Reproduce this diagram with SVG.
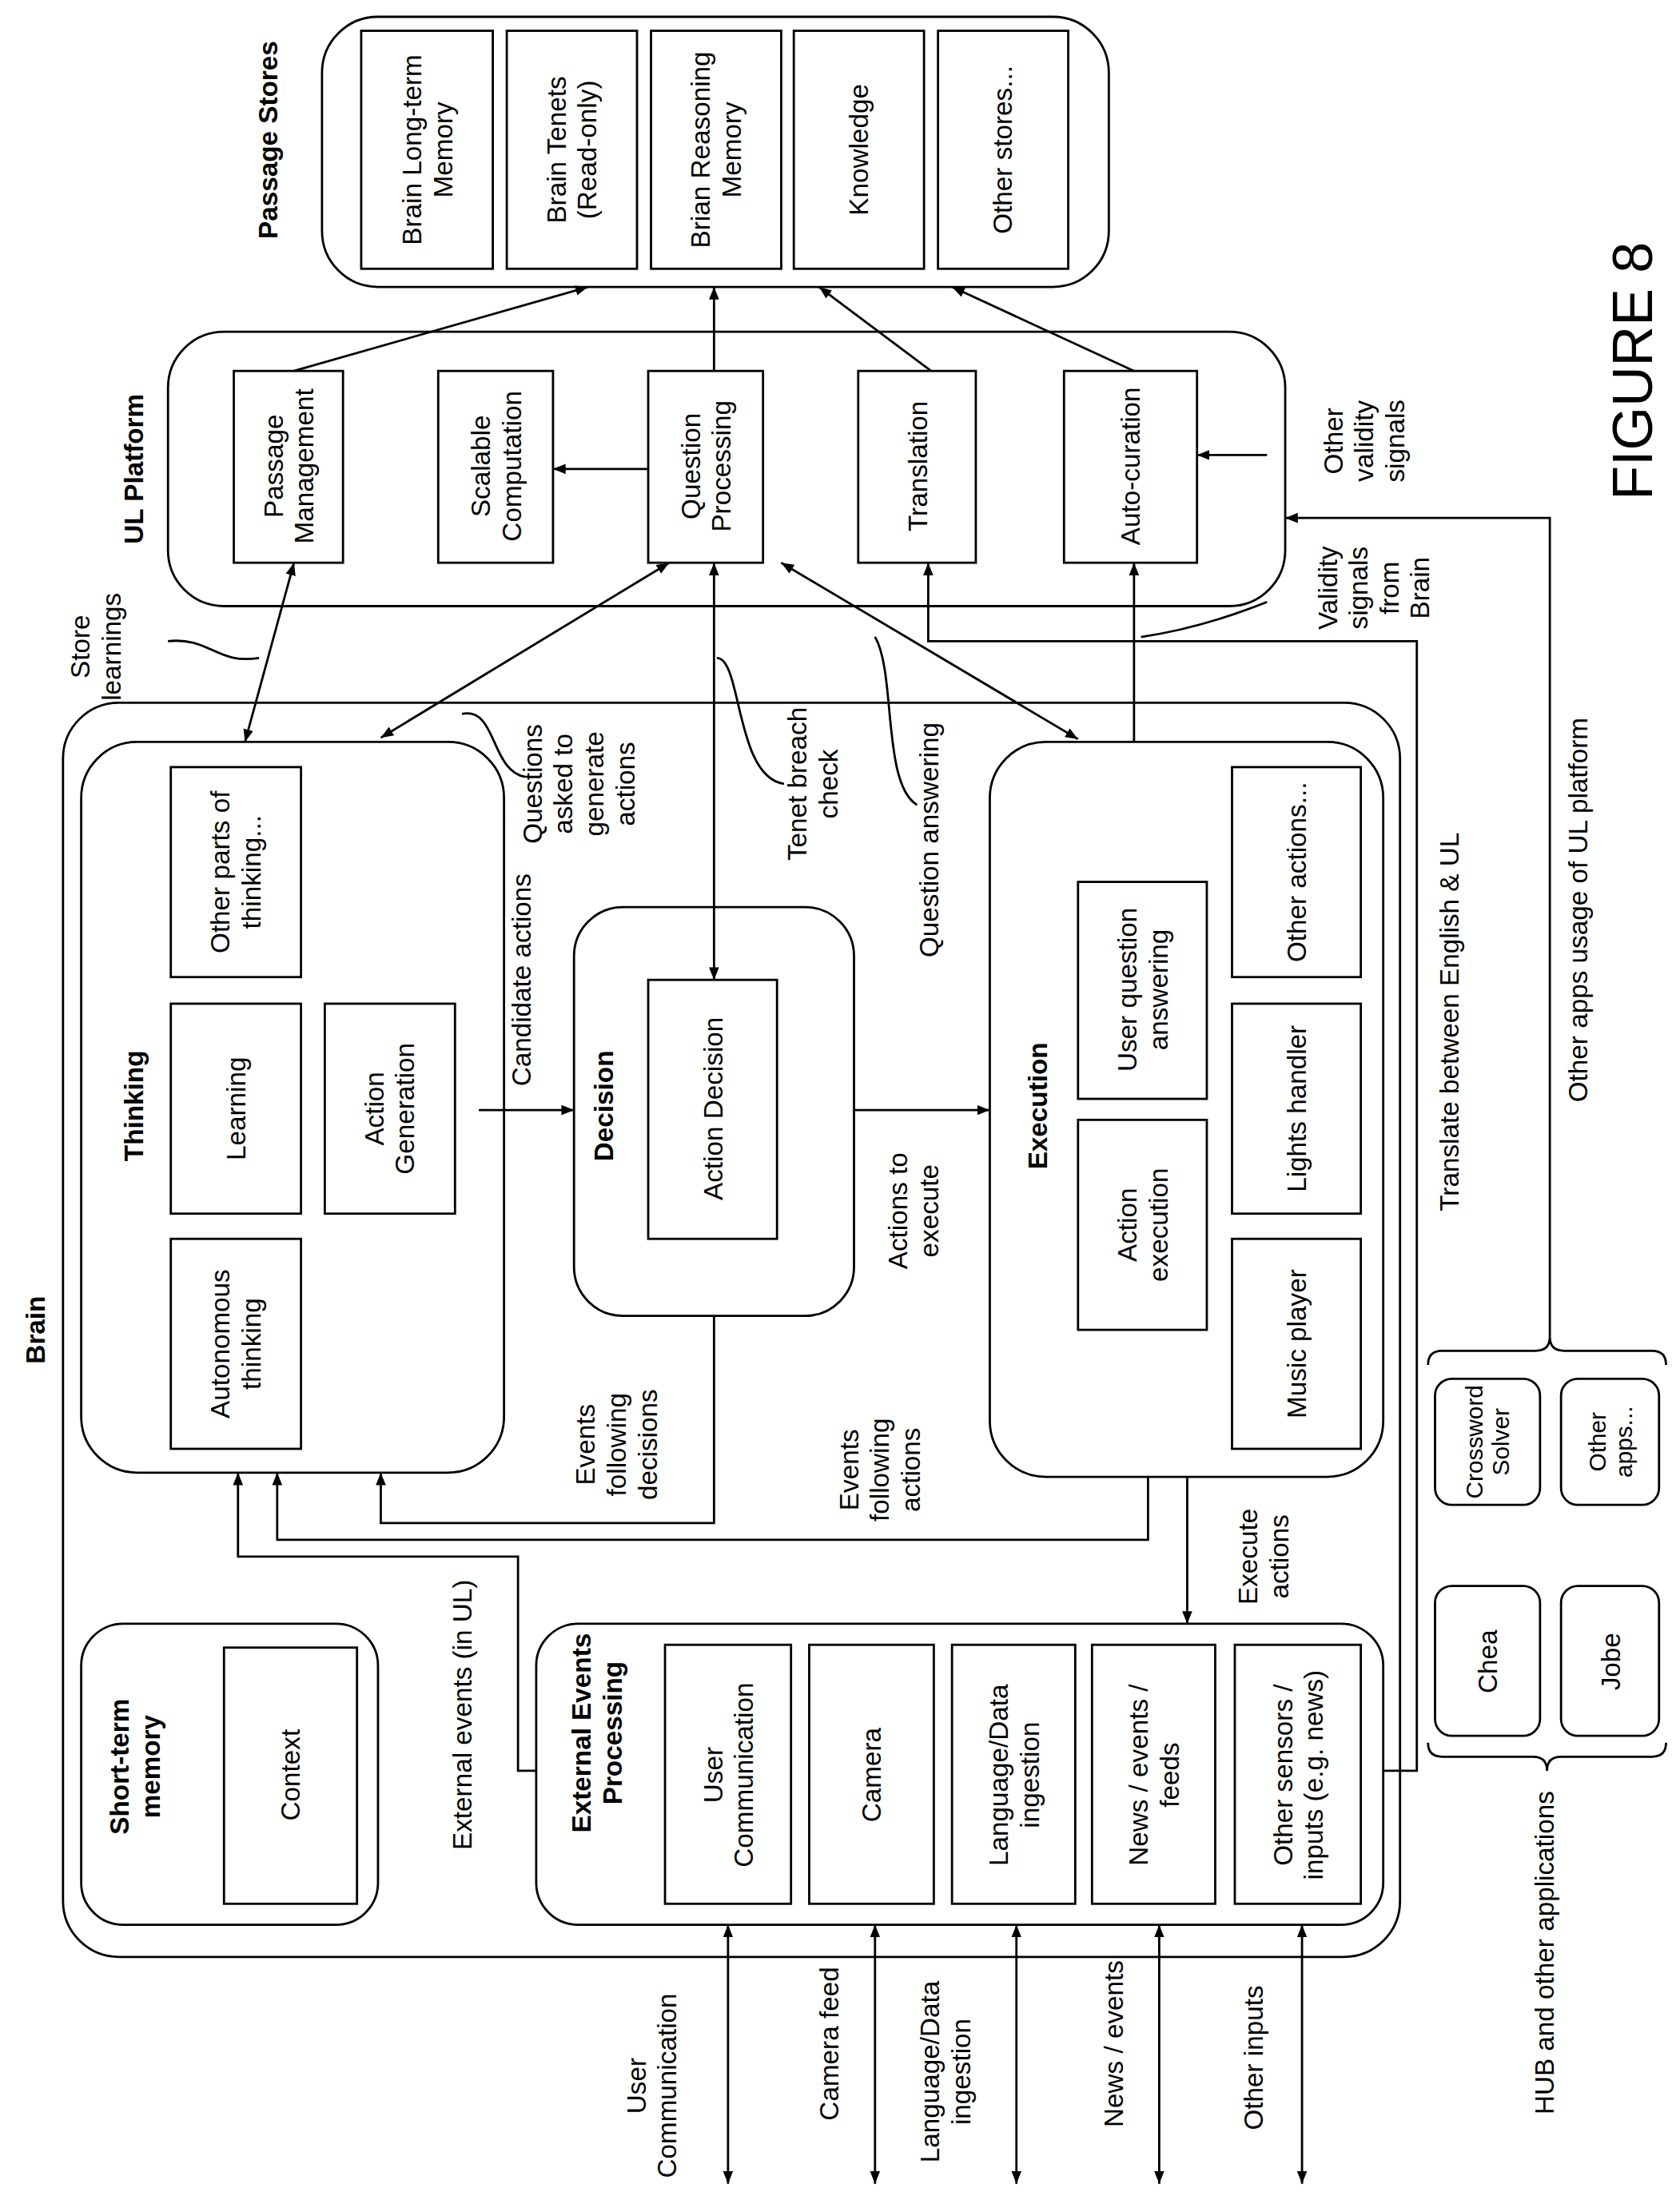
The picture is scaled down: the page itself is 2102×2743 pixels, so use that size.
<svg xmlns="http://www.w3.org/2000/svg" width="2102" height="2743" viewBox="0 0 2102 2743">
<defs>
<marker id="ah" viewBox="0 0 10 10" refX="10" refY="5" markerWidth="9" markerHeight="9" markerUnits="userSpaceOnUse" orient="auto-start-reverse"><path d="M0,1 L10,5 L0,9 z" fill="#000"/></marker>
<style>
.b{fill:#fff;stroke:#000;stroke-width:1.6}
.c{fill:none;stroke:#000;stroke-width:1.6}
.a{fill:none;stroke:#000;stroke-width:1.6;marker-end:url(#ah)}
.d{fill:none;stroke:#000;stroke-width:1.6;marker-end:url(#ah);marker-start:url(#ah)}
text{font-family:"Liberation Sans",Arial,sans-serif;font-size:19px;text-anchor:middle}
.h{font-weight:bold}
.s{font-size:17px}
</style>
</defs>
<rect width="2102" height="2743" fill="#fff"/>
<g transform="scale(1.7517)">
<g id="passage-stores">
<rect class="b" x="230" y="12" width="562" height="193" rx="40"/>
<text class="h" transform="translate(198,100) rotate(-90)">Passage Stores</text>
<rect class="b" x="258" y="22" width="94" height="170"/><text transform="translate(305,107) rotate(-90)"><tspan x="0" y="-4">Brain Long-term</tspan><tspan x="0" y="18">Memory</tspan></text>
<rect class="b" x="362" y="22" width="93" height="170"/><text transform="translate(408,107) rotate(-90)"><tspan x="0" y="-4">Brain Tenets</tspan><tspan x="0" y="18">(Read-only)</tspan></text>
<rect class="b" x="465" y="22" width="93" height="170"/><text transform="translate(511,107) rotate(-90)"><tspan x="0" y="-4">Brian Reasoning</tspan><tspan x="0" y="18">Memory</tspan></text>
<rect class="b" x="567" y="22" width="93" height="170"/><text transform="translate(613,107) rotate(-90)"><tspan x="0" y="7">Knowledge</tspan></text>
<rect class="b" x="670" y="22" width="93" height="170"/><text transform="translate(716,107) rotate(-90)"><tspan x="0" y="7">Other stores...</tspan></text>
</g>
<g id="ul-platform">
<rect class="b" x="120" y="237" width="798" height="196" rx="40"/>
<text class="h" transform="translate(102,335) rotate(-90)">UL Platform</text>
<rect class="b" x="167" y="265" width="78" height="137"/><text transform="translate(206,333) rotate(-90)"><tspan x="0" y="-4">Passage</tspan><tspan x="0" y="18">Management</tspan></text>
<rect class="b" x="313" y="265" width="82" height="137"/><text transform="translate(354,333) rotate(-90)"><tspan x="0" y="-4">Scalable</tspan><tspan x="0" y="18">Computation</tspan></text>
<rect class="b" x="463" y="265" width="82" height="137"/><text transform="translate(504,333) rotate(-90)"><tspan x="0" y="-4">Question</tspan><tspan x="0" y="18">Processing</tspan></text>
<rect class="b" x="613" y="265" width="84" height="137"/><text transform="translate(655,333) rotate(-90)"><tspan x="0" y="7">Translation</tspan></text>
<rect class="b" x="760" y="265" width="95" height="137"/><text transform="translate(807,333) rotate(-90)"><tspan x="0" y="7">Auto-curation</tspan></text>
</g>
<g id="brain">
<rect class="b" x="45" y="502" width="955" height="896" rx="40"/>
<text class="h" transform="translate(32,950) rotate(-90)">Brain</text>
</g>
<g id="thinking">
<rect class="b" x="58" y="530" width="302" height="522" rx="40"/>
<text class="h" transform="translate(102,790) rotate(-90)">Thinking</text>
<rect class="b" x="122" y="548" width="93" height="150"/><text transform="translate(168,623) rotate(-90)"><tspan x="0" y="-4">Other parts of</tspan><tspan x="0" y="18">thinking...</tspan></text>
<rect class="b" x="122" y="717" width="93" height="150"/><text transform="translate(168,792) rotate(-90)"><tspan x="0" y="7">Learning</tspan></text>
<rect class="b" x="232" y="717" width="93" height="150"/><text transform="translate(278,792) rotate(-90)"><tspan x="0" y="-4">Action</tspan><tspan x="0" y="18">Generation</tspan></text>
<rect class="b" x="122" y="885" width="93" height="150"/><text transform="translate(168,960) rotate(-90)"><tspan x="0" y="-4">Autonomous</tspan><tspan x="0" y="18">thinking</tspan></text>
</g>
<g id="decision">
<rect class="b" x="410" y="648" width="200" height="292" rx="35"/>
<text class="h" transform="translate(438,790) rotate(-90)">Decision</text>
<rect class="b" x="463" y="700" width="92" height="185"/><text transform="translate(509,792) rotate(-90)"><tspan x="0" y="7">Action Decision</tspan></text>
</g>
<g id="execution">
<rect class="b" x="707" y="530" width="281" height="525" rx="40"/>
<text class="h" transform="translate(748,790) rotate(-90)">Execution</text>
<rect class="b" x="770" y="630" width="92" height="155"/><text transform="translate(816,707) rotate(-90)"><tspan x="0" y="-4">User question</tspan><tspan x="0" y="18">answering</tspan></text>
<rect class="b" x="770" y="800" width="92" height="150"/><text transform="translate(816,875) rotate(-90)"><tspan x="0" y="-4">Action</tspan><tspan x="0" y="18">execution</tspan></text>
<rect class="b" x="880" y="548" width="92" height="150"/><text transform="translate(926,623) rotate(-90)"><tspan x="0" y="7">Other actions...</tspan></text>
<rect class="b" x="880" y="717" width="92" height="150"/><text transform="translate(926,792) rotate(-90)"><tspan x="0" y="7">Lights handler</tspan></text>
<rect class="b" x="880" y="885" width="92" height="150"/><text transform="translate(926,960) rotate(-90)"><tspan x="0" y="7">Music player</tspan></text>
</g>
<g id="short-term-memory">
<rect class="b" x="58" y="1160" width="212" height="215" rx="30"/>
<text class="h" transform="translate(96,1262) rotate(-90)"><tspan x="0" y="-4">Short-term</tspan><tspan x="0" y="18">memory</tspan></text>
<rect class="b" x="160" y="1177" width="95" height="183"/><text transform="translate(207,1268) rotate(-90)"><tspan x="0" y="7">Context</tspan></text>
</g>
<g id="external-events">
<rect class="b" x="383" y="1160" width="605" height="215" rx="30"/>
<text class="h" transform="translate(426,1238) rotate(-90)"><tspan x="0" y="-4">External Events</tspan><tspan x="0" y="18">Processing</tspan></text>
<rect class="b" x="475" y="1175" width="90" height="185"/><text transform="translate(520,1268) rotate(-90)"><tspan x="0" y="-4">User</tspan><tspan x="0" y="18">Communication</tspan></text>
<rect class="b" x="578" y="1175" width="89" height="185"/><text transform="translate(622,1268) rotate(-90)"><tspan x="0" y="7">Camera</tspan></text>
<rect class="b" x="680" y="1175" width="88" height="185"/><text transform="translate(724,1268) rotate(-90)"><tspan x="0" y="-4">Language/Data</tspan><tspan x="0" y="18">ingestion</tspan></text>
<rect class="b" x="780" y="1175" width="88" height="185"/><text transform="translate(824,1268) rotate(-90)"><tspan x="0" y="-4">News / events /</tspan><tspan x="0" y="18">feeds</tspan></text>
<rect class="b" x="882" y="1175" width="90" height="185"/><text transform="translate(927,1268) rotate(-90)"><tspan x="0" y="-4">Other sensors /</tspan><tspan x="0" y="18">inputs (e.g. news)</tspan></text>
</g>
<g id="hub">
<rect class="b" x="1025" y="1133" width="75" height="107" rx="12"/><text transform="translate(1062,1187) rotate(-90)"><tspan x="0" y="7">Chea</tspan></text>
<rect class="b" x="1115" y="1133" width="70" height="107" rx="12"/><text transform="translate(1150,1187) rotate(-90)"><tspan x="0" y="7">Jobe</tspan></text>
<rect class="b" x="1025" y="985" width="75" height="90" rx="12"/><text class="s" transform="translate(1062,1030) rotate(-90)"><tspan x="0" y="-3">Crossword</tspan><tspan x="0" y="16">Solver</tspan></text>
<rect class="b" x="1115" y="985" width="70" height="90" rx="12"/><text class="s" transform="translate(1150,1030) rotate(-90)"><tspan x="0" y="-3">Other</tspan><tspan x="0" y="16">apps...</tspan></text>
<path class="c" d="M1020,1245 Q1020,1255 1030,1255 L1095,1255 Q1105,1255 1105,1265 Q1105,1255 1115,1255 L1180,1255 Q1190,1255 1190,1245"/>
<path class="c" d="M1020,975 Q1020,965 1030,965 L1097,965 Q1107,965 1107,955 Q1107,965 1117,965 L1180,965 Q1190,965 1190,975"/>
<text transform="translate(1110,1395) rotate(-90)">HUB and other applications</text>
</g>
<g id="connectors">
<line class="a" x1="210" y1="265" x2="420" y2="205"/>
<line class="a" x1="510" y1="265" x2="510" y2="205"/>
<line class="a" x1="665" y1="265" x2="585" y2="205"/>
<line class="a" x1="810" y1="265" x2="680" y2="205"/>
<line class="a" x1="463" y1="335" x2="395" y2="335"/>
<line class="a" x1="905" y1="325" x2="855" y2="325"/>
<polyline class="a" points="1107,955 1107,370 918,370"/>
<polyline class="a" points="988,1265 1012,1265 1012,458 663,458 663,402"/>
<line class="a" x1="810" y1="530" x2="810" y2="402"/>
<line class="d" x1="175" y1="530" x2="210" y2="402"/>
<line class="d" x1="272" y1="527" x2="478" y2="402"/>
<line class="d" x1="510" y1="700" x2="510" y2="402"/>
<line class="d" x1="770" y1="528" x2="558" y2="402"/>
<line class="a" x1="342" y1="793" x2="410" y2="793"/>
<line class="a" x1="610" y1="793" x2="707" y2="793"/>
<polyline class="a" points="510,940 510,1088 272,1088 272,1052"/>
<polyline class="a" points="820,1055 820,1100 198,1100 198,1052"/>
<path class="a" d="M383,1265 L370,1265 L370,1112 L170,1112 L170,1052"/>
<line class="a" x1="848" y1="1055" x2="848" y2="1160"/>
<line class="d" x1="520" y1="1375" x2="520" y2="1560"/>
<line class="d" x1="625" y1="1375" x2="625" y2="1560"/>
<line class="d" x1="726" y1="1375" x2="726" y2="1560"/>
<line class="d" x1="828" y1="1375" x2="828" y2="1560"/>
<line class="d" x1="930" y1="1375" x2="930" y2="1560"/>
<path class="c" d="M120,458 C150,455 155,475 185,470"/>
<path class="c" d="M330,510 C355,505 350,550 375,555"/>
<path class="c" d="M512,470 C530,470 525,555 560,560"/>
<path class="c" d="M625,455 C640,480 630,560 655,575"/>
<path class="c" d="M815,455 C850,450 880,440 905,430"/>
</g>
<g id="labels">
<text transform="translate(68,462) rotate(-90)"><tspan x="0" y="-4">Store</tspan><tspan x="0" y="18">learnings</tspan></text>
<text transform="translate(413,560) rotate(-90)"><tspan x="0" y="-26">Questions</tspan><tspan x="0" y="-4">asked to</tspan><tspan x="0" y="18">generate</tspan><tspan x="0" y="40">actions</tspan></text>
<text transform="translate(580,560) rotate(-90)"><tspan x="0" y="-4">Tenet breach</tspan><tspan x="0" y="18">check</tspan></text>
<text transform="translate(663,600) rotate(-90)"><tspan x="0" y="7">Question answering</tspan></text>
<text transform="translate(372,700) rotate(-90)"><tspan x="0" y="7">Candidate actions</tspan></text>
<text transform="translate(652,865) rotate(-90)"><tspan x="0" y="-4">Actions to</tspan><tspan x="0" y="18">execute</tspan></text>
<text transform="translate(440,1032) rotate(-90)"><tspan x="0" y="-15">Events</tspan><tspan x="0" y="7">following</tspan><tspan x="0" y="29">decisions</tspan></text>
<text transform="translate(628,1050) rotate(-90)"><tspan x="0" y="-15">Events</tspan><tspan x="0" y="7">following</tspan><tspan x="0" y="29">actions</tspan></text>
<text transform="translate(330,1225) rotate(-90)"><tspan x="0" y="7">External events (in UL)</tspan></text>
<text transform="translate(902,1112) rotate(-90)"><tspan x="0" y="-4">Execute</tspan><tspan x="0" y="18">actions</tspan></text>
<text transform="translate(465,1490) rotate(-90)"><tspan x="0" y="-4">User</tspan><tspan x="0" y="18">Communication</tspan></text>
<text transform="translate(592,1460) rotate(-90)"><tspan x="0" y="7">Camera feed</tspan></text>
<text transform="translate(675,1480) rotate(-90)"><tspan x="0" y="-4">Language/Data</tspan><tspan x="0" y="18">ingestion</tspan></text>
<text transform="translate(795,1460) rotate(-90)"><tspan x="0" y="7">News / events</tspan></text>
<text transform="translate(895,1470) rotate(-90)"><tspan x="0" y="7">Other inputs</tspan></text>
<text transform="translate(1035,730) rotate(-90)"><tspan x="0" y="7">Translate between English &amp; UL</tspan></text>
<text transform="translate(1127,650) rotate(-90)"><tspan x="0" y="7">Other apps usage of UL platform</tspan></text>
<text transform="translate(992,420) rotate(-90)"><tspan x="0" y="-37">Validity</tspan><tspan x="0" y="-15">signals</tspan><tspan x="0" y="7">from</tspan><tspan x="0" y="29">Brain</tspan></text>
<text transform="translate(985,315) rotate(-90)"><tspan x="0" y="-26">Other</tspan><tspan x="0" y="-4">validity</tspan><tspan x="0" y="18">signals</tspan></text>
<text style="font-size:40px" transform="translate(1180,265) rotate(-90)">FIGURE 8</text>
</g>
</g>
</svg>
